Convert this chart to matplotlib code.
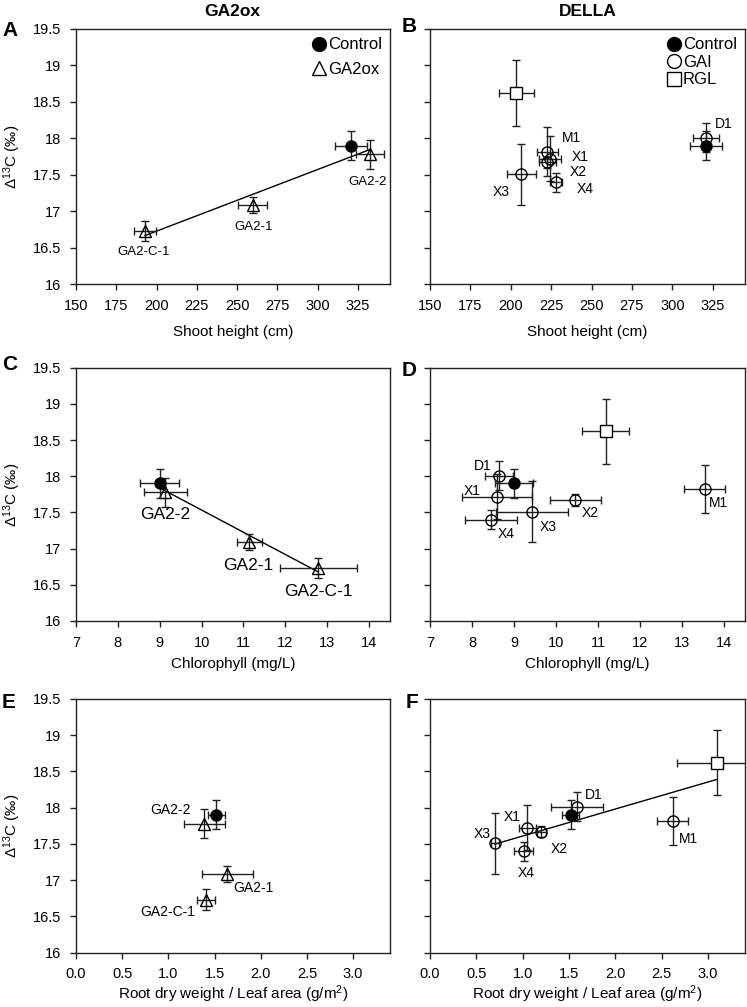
import numpy as np
import matplotlib
matplotlib.use('Agg')
import matplotlib.pyplot as plt

plt.rcParams['font.family'] = ['Liberation Sans', 'DejaVu Sans']
plt.rcParams['mathtext.default'] = 'regular'

# --- data ---
# control line
ctrl_d13c, ctrl_d13c_err = 17.9, 0.2
ctrl_height, ctrl_height_err = 321.0, 10.0
ctrl_chl, ctrl_chl_err = 9.0, 0.46
ctrl_root, ctrl_root_err = 1.52, 0.09

# GA2ox lines
ga2_names = ['GA2-C-1', 'GA2-1', 'GA2-2']
ga2_d13c = [16.73, 17.09, 17.78]
ga2_d13c_err = [0.14, 0.11, 0.2]
ga2_height = [192.8, 259.7, 332.7]
ga2_height_err = [7.0, 9.0, 8.7]
ga2_chl = [12.79, 11.14, 9.13]
ga2_chl_err = [0.91, 0.3, 0.51]
ga2_root = [1.41, 1.64, 1.39]
ga2_root_err = [0.1, 0.28, 0.22]

# GAI lines
gai_names = ['D1', 'M1', 'X1', 'X2', 'X3', 'X4']
gai_d13c = [18.01, 17.82, 17.72, 17.67, 17.51, 17.4]
gai_d13c_err = [0.2, 0.33, 0.31, 0.08, 0.42, 0.13]
gai_height = [320.7, 222.7, 224.4, 222.7, 206.6, 227.9]
gai_height_err = [8.0, 6.7, 7.0, 5.0, 9.0, 3.7]
gai_chl = [8.65, 13.54, 8.60, 10.46, 9.43, 8.46]
gai_chl_err = [0.33, 0.49, 0.84, 0.6, 0.85, 0.62]
gai_root = [1.59, 2.62, 1.05, 1.2, 0.7, 1.01]
gai_root_err = [0.28, 0.17, 0.09, 0.05, 0.04, 0.1]

# RGL line
rgl_d13c, rgl_d13c_err = 18.62, 0.45
rgl_height, rgl_height_err = 203.5, 10.7
rgl_chl, rgl_chl_err = 11.18, 0.56
rgl_root, rgl_root_err = 3.1, 0.43

yticks = [16, 16.5, 17, 17.5, 18, 18.5, 19, 19.5]
ytick_labels = ['16', '16.5', '17', '17.5', '18', '18.5', '19', '19.5']
ylabel = 'Δ$^{13}$C (‰)'
root_label = 'Root dry weight / Leaf area (g/m$^{2}$)'

fig = plt.figure(figsize=(7.47, 10.07), dpi=100)
W, H = 747.0, 1007.0

def make_ax(l, r, t, b):
    return fig.add_axes([l / W, 1 - b / H, (r - l) / W, (b - t) / H])

cols = [(76, 390), (430, 745)]
rows = [(29, 284.3), (367.7, 621), (699, 952.5)]

ebkw = dict(ecolor='#222222', elinewidth=1.0, capsize=3, capthick=1.0, linestyle='none')

def style(ax, xlim, xticks, xtl, xlabel, left, xpad=7):
    ax.set_xlim(*xlim)
    ax.set_ylim(16, 19.5)
    ax.set_xticks(xticks)
    ax.set_xticklabels(xtl)
    ax.set_yticks(yticks)
    if left:
        ax.set_yticklabels(ytick_labels)
        ax.set_ylabel(ylabel, fontsize=11, labelpad=7)
    else:
        ax.set_yticklabels([])
    ax.set_xlabel(xlabel, fontsize=11, labelpad=xpad)
    ax.tick_params(direction='out', length=4, width=1, labelsize=10.5, pad=6.5,
                   colors='#222222', labelcolor='black')
    for s in ax.spines.values():
        s.set_linewidth(1.0)
        s.set_color('#222222')

def draw_control(ax, x, xe):
    ax.errorbar(x, ctrl_d13c, xerr=xe, yerr=ctrl_d13c_err, marker='o', ms=8,
                mfc='black', mec='black', zorder=4, **ebkw)

def draw_ga2(ax, x, xe):
    ax.errorbar(x, ga2_d13c, xerr=xe, yerr=ga2_d13c_err, marker='^', ms=8.5,
                mfc='none', mec='black', mew=1.0, zorder=3, **ebkw)

def draw_della(ax, gx, gxe, rx, rxe):
    ax.errorbar(rx, rgl_d13c, xerr=rxe, yerr=rgl_d13c_err, marker='s', ms=8,
                mfc='white', mec='black', mew=1.0, zorder=3, **ebkw)
    ax.errorbar(gx, gai_d13c, xerr=gxe, yerr=gai_d13c_err, marker='o', ms=8,
                mfc='none', mec='black', mew=1.0, zorder=3, **ebkw)

def trend(ax, xs, ys):
    k, c = np.polyfit(xs, ys, 1)
    xx = np.array([min(xs), max(xs)])
    ax.plot(xx, k * xx + c, color='black', lw=1.0, zorder=2)

leg_kw = dict(loc='upper right', frameon=False, fontsize=12, handletextpad=0.0,
              handlelength=1.0, borderaxespad=0.3, borderpad=0.2)

# ---- A ----
axA = make_ax(cols[0][0], cols[0][1], *rows[0])
draw_ga2(axA, ga2_height, ga2_height_err)
draw_control(axA, ctrl_height, ctrl_height_err)
trend(axA, ga2_height + [ctrl_height], ga2_d13c + [ctrl_d13c])
for name, pos in zip(ga2_names, [(192.3, 16.44), (260, 16.79), (330.8, 17.40)]):
    axA.text(*pos, name, fontsize=9.5, ha='center', va='center')
hA = [plt.Line2D([], [], marker='o', ms=10, mfc='black', mec='black', ls='none'),
      plt.Line2D([], [], marker='^', ms=10, mfc='none', mec='black', ls='none')]
axA.legend(hA, ['Control', 'GA2ox'], labelspacing=0.55, **leg_kw)
style(axA, (150, 345), range(150, 326, 25), [str(v) for v in range(150, 326, 25)],
      'Shoot height (cm)', True, xpad=9)

# ---- B ----
axB = make_ax(cols[1][0], cols[1][1], *rows[0])
draw_della(axB, gai_height, gai_height_err, rgl_height, rgl_height_err)
draw_control(axB, ctrl_height, ctrl_height_err)
for name, pos in zip(gai_names, [(331.5, 18.2), (237.4, 18.01), (243, 17.75),
                                 (242, 17.54), (193.9, 17.26), (246, 17.31)]):
    axB.text(*pos, name, fontsize=10, ha='center', va='center')
hB = [plt.Line2D([], [], marker='o', ms=10, mfc='black', mec='black', ls='none'),
      plt.Line2D([], [], marker='o', ms=10, mfc='none', mec='black', ls='none'),
      plt.Line2D([], [], marker='s', ms=10, mfc='none', mec='black', ls='none')]
axB.legend(hB, ['Control', 'GAI', 'RGL'], labelspacing=0.15, **leg_kw)
style(axB, (150, 345), range(150, 326, 25), [str(v) for v in range(150, 326, 25)],
      'Shoot height (cm)', False, xpad=9)

# ---- C ----
axC = make_ax(cols[0][0], cols[0][1], *rows[1])
draw_ga2(axC, ga2_chl, ga2_chl_err)
draw_control(axC, ctrl_chl, ctrl_chl_err)
trend(axC, ga2_chl + [ctrl_chl], ga2_d13c + [ctrl_d13c])
for name, pos in zip(ga2_names, [(12.79, 16.41), (11.12, 16.77), (9.12, 17.47)]):
    axC.text(*pos, name, fontsize=12.5, ha='center', va='center')
style(axC, (7, 14.5), range(7, 15), [str(v) for v in range(7, 15)],
      'Chlorophyll (mg/L)', True, xpad=5)

# ---- D ----
axD = make_ax(cols[1][0], cols[1][1], *rows[1])
draw_della(axD, gai_chl, gai_chl_err, rgl_chl, rgl_chl_err)
draw_control(axD, ctrl_chl, ctrl_chl_err)
for name, pos in zip(gai_names, [(8.26, 18.14), (13.87, 17.63), (8.01, 17.79),
                                 (10.82, 17.49), (9.82, 17.3), (8.82, 17.2)]):
    axD.text(*pos, name, fontsize=10, ha='center', va='center')
style(axD, (7, 14.5), range(7, 15), [str(v) for v in range(7, 15)],
      'Chlorophyll (mg/L)', False, xpad=5)

# ---- E ----
axE = make_ax(cols[0][0], cols[0][1], *rows[2])
draw_ga2(axE, ga2_root, ga2_root_err)
draw_control(axE, ctrl_root, ctrl_root_err)
for name, pos in zip(ga2_names, [(0.995, 16.56), (1.918, 16.89), (1.02, 17.97)]):
    axE.text(*pos, name, fontsize=10, ha='center', va='center')
rt = [0, 0.5, 1.0, 1.5, 2.0, 2.5, 3.0]
style(axE, (0, 3.4), rt, ['%.1f' % v for v in rt], root_label, True, xpad=2)

# ---- F ----
axF = make_ax(cols[1][0], cols[1][1], *rows[2])
draw_della(axF, gai_root, gai_root_err, rgl_root, rgl_root_err)
draw_control(axF, ctrl_root, ctrl_root_err)
trend(axF, gai_root + [rgl_root, ctrl_root], gai_d13c + [rgl_d13c, ctrl_d13c])
for name, pos in zip(gai_names, [(1.77, 18.18), (2.79, 17.57), (0.887, 17.87),
                                 (1.39, 17.43), (0.562, 17.64), (1.035, 17.1)]):
    axF.text(*pos, name, fontsize=10, ha='center', va='center')
style(axF, (0, 3.4), rt, ['%.1f' % v for v in rt], root_label, False, xpad=2)

# titles and panel letters
fig.text(232 / W, 1 - 11 / H, 'GA2ox', fontsize=12.5, fontweight='bold', ha='center', va='center')
fig.text(588 / W, 1 - 11 / H, 'DELLA', fontsize=12.5, fontweight='bold', ha='center', va='center')
for letter, (px, py) in zip('ABCDEF', [(10, 30), (409, 26), (10, 365), (409, 370),
                                       (9, 703), (412, 702)]):
    fig.text(px / W, 1 - py / H, letter, fontsize=15, fontweight='bold', ha='center', va='center')

fig.savefig('out.png', dpi=100)
